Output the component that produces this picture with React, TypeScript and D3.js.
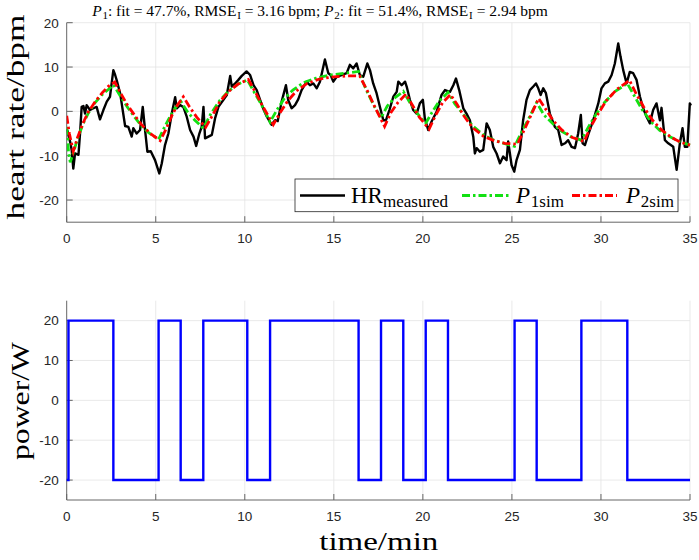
import React, { useEffect, useRef } from "react";
import * as d3 from "d3";

// measured heart rate (min, bpm)
const hrTime = [
  0, 0.05, 0.12, 0.2, 0.28, 0.37, 0.47, 0.66, 0.75, 0.84, 0.94, 1.03, 1.12, 1.31, 1.5, 1.68, 1.87, 2.06, 2.25,
  2.43, 2.53, 2.62, 2.72, 2.81, 3.0, 3.28, 3.46, 3.65, 3.74, 3.93, 4.12, 4.27, 4.4, 4.53, 4.72, 4.96, 5.2, 5.34,
  5.52, 5.71, 5.9, 6.09, 6.18, 6.37, 6.55, 6.74, 6.93, 7.12, 7.27, 7.45, 7.58, 7.68, 7.77, 7.96, 8.15, 8.33, 8.52,
  8.8, 8.99, 9.18, 9.27, 9.46, 9.64, 9.83, 10.1, 10.3, 10.49, 10.67, 10.86, 11.05, 11.24, 11.5, 11.7, 11.85,
  12.07, 12.31, 12.44, 12.63, 12.82, 13.0, 13.19, 13.47, 13.66, 13.85, 14.04, 14.22, 14.5, 14.69, 14.82, 14.97,
  15.16, 15.43, 15.72, 15.9, 16.09, 16.28, 16.46, 16.65, 16.88, 17.03, 17.21, 17.4, 17.59, 17.78, 17.93, 18.12,
  18.34, 18.53, 18.62, 18.81, 19.0, 19.09, 19.27, 19.46, 19.65, 19.83, 20.0, 20.11, 20.3, 20.49, 20.77, 21.05,
  21.24, 21.52, 21.71, 21.86, 22.04, 22.27, 22.45, 22.64, 22.83, 22.92, 23.02, 23.2, 23.39, 23.58, 23.76, 23.95,
  24.14, 24.33, 24.51, 24.7, 24.79, 24.98, 25.13, 25.26, 25.45, 25.63, 25.82, 26.01, 26.2, 26.35, 26.48, 26.61,
  26.76, 26.91, 27.13, 27.41, 27.6, 27.79, 27.98, 28.16, 28.35, 28.54, 28.72, 28.87, 28.97, 29.1, 29.28, 29.47,
  29.66, 29.85, 30.03, 30.22, 30.41, 30.6, 30.78, 30.97, 31.1, 31.25, 31.44, 31.62, 31.81, 32.0, 32.19, 32.37,
  32.56, 32.75, 32.93, 33.12, 33.31, 33.4, 33.59, 33.78, 34.06, 34.25, 34.43, 34.58, 34.71, 34.85, 34.99, 35.05,
];
const hrMeasured = [
  -4, -4.5, -5.7, -7, -8.7, -12.9, -9.5, -9.8, -5, 1, 1.2, -0.5, 1.4, 0.3, 0.7, 1, -1.8, 0.3, 2.2,
  3.3, 6.5, 9.3, 8.2, 7, 4.1, -3.3, -3.5, -5.7, -3.8, -5, -4.2, 1, -4.2, -9.1, -9, -11, -14, -11.7,
  -7.6, -5, -0.5, 3.2, 0.7, 1.4, 1, -1.2, -4.2, -5.7, -7.8, -5, -3.5, 1, -6.1, -5.7, -5.3, -1.6, 1,
  2.6, 3.7, 8, 5.6, 6.3, 7.1, 8, 9, 8.2, 5.9, 4.8, 2.6, 0.5, -1.2, -3, -2, -2.2,
  2.2, 5.9, 2.5, 0.7, 1.4, 2.7, 4.8, 6.7, 5.9, 6.3, 5.2, 6.7, 11.7, 8.6, 8.2, 6.7,
  7.8, 8.2, 8.6, 10.5, 9.7, 10.8, 8.2, 7.8, 10.8, 9.3, 6.3, 4.1, 1, -2, -2, 0.3,
  3.3, 4.4, 6.7, 5.9, 6.7, 5.6, 2.6, 0.3, -0.5, 1.8, 2.6, -1.6, -4.2, -2.3, -0.1, 3.7,
  4.8, 4.4, 5.9, 7.4, 4.8, 0.7, -0.5, -2, -5.7, -9.5, -8.3, -9.1, -8.7, -2.7, -4.2, -8,
  -9.5, -11.7, -10.2, -11, -6.8, -12.1, -13.6, -11, -8.7, -2, 2.6, 4.8, 5.6, 6.3, 5.2, 3.7,
  5.2, 4.1, -0.5, -3.5, -4.2, -7.6, -7.2, -6.5, -8, -8.3, -5, -0.8, -7.2, -7.6, -5.3, -3.1,
  -0.8, 1.8, 5.2, 6.3, 6.7, 8.2, 10.8, 15.3, 12.3, 9.3, 6.3, 8.9, 8.6, 7.1, 3.3, 0.7,
  -1.2, -2.7, 0.3, 1.8, -2, 0.8, -6.5, -7.2, -8, -13.2, -7.2, -3.8, -8, -8, 1.8, 1.3,
];

// simulated model P1
const p1Time = [
  0, 0.1, 0.2, 0.4, 0.6, 0.9, 1.2, 1.6, 2.0, 2.35, 2.62, 3.0, 3.4, 3.8, 4.2, 4.6, 5.16, 5.5, 5.8, 6.1, 6.4,
  6.8, 7.2, 7.67, 8.1, 8.6, 9.1, 9.6, 10.14, 10.5, 10.9, 11.42, 11.8, 12.2, 12.7, 13.3, 14, 14.8, 15.6, 16.39,
  16.8, 17.2, 17.65, 18.0, 18.4, 18.9, 19.3, 19.7, 20.16, 20.5, 20.9, 21.41, 21.8, 22.3, 22.8, 23.4, 24, 24.6,
  25.15, 25.5, 25.9, 26.39, 26.8, 27.3, 27.8, 28.3, 28.9, 29.3, 29.7, 30.2, 30.8, 31.48, 31.9, 32.3, 32.8,
  33.3, 33.9, 34.4, 35,
];
const p1Sim = [
  -3.5, -9, -11.5, -9, -6.3, -3, -0.5, 2, 3.8, 5, 6, 3.5, 1, -1.2, -3.3, -4.8, -6.3, -3.5, -1.2, 0.8, 2.3,
  -0.2, -2, -3.8, -0.5, 2.5, 4.6, 6.1, 7.1, 4.5, 1.8, -2.4, 0.3, 2.8, 4.8, 6.5, 7.5, 8.2, 8.6, 9,
  5, 1.7, -1.5, 1.2, 3, 4.5, 1.8, -0.5, -2.7, -0.3, 2.2, 4.3, 1.7, -0.8, -3.3, -5.3, -6.5, -7.3,
  -7.9, -5, -2, 2, -0.8, -2.8, -4.5, -5.7, -6.5, -3.5, -0.8, 2, 4.5, 6.3, 3.3, 0.5, -2.3,
  -4.3, -5.8, -6.8, -7.6,
];

// simulated model P2
const p2Time = [
  0, 0.15, 0.37, 0.6, 0.9, 1.2, 1.6, 2.0, 2.35, 2.7, 3.0, 3.4, 3.8, 4.2, 4.7, 5.25, 5.6, 5.9, 6.2, 6.55,
  6.9, 7.3, 7.8, 8.2, 8.6, 9.1, 9.6, 10.2, 10.6, 11.0, 11.6, 12.0, 12.4, 12.9, 13.5, 14.2, 15, 15.8, 16.45,
  16.9, 17.3, 17.85, 18.2, 18.6, 19.05, 19.4, 19.8, 20.35, 20.7, 21.1, 21.55, 21.9, 22.3, 22.8, 23.4, 24, 24.6,
  25.3, 25.6, 26, 26.5, 26.9, 27.3, 27.8, 28.4, 29.05, 29.4, 29.8, 30.3, 30.9, 31.6, 32, 32.4, 32.9, 33.4,
  34, 34.5, 35,
];
const p2Sim = [
  -1, -5, -9, -6, -2.8, -0.2, 2.2, 4.2, 5.7, 6.6, 4.3, 1.5, -0.8, -3, -5, -6.6, -3.8, -1, 1.3, 3.3,
  1, -1.3, -3.6, -0.8, 2.2, 4.5, 6.1, 7.2, 4.3, 1.2, -3, -0.2, 2.3, 4.6, 6.3, 7.3, 7.8, 8, 8,
  4.5, 1, -3.4, -0.3, 2, 3.9, 1.5, -1.3, -4, -1, 1.9, 3.8, 1.7, -1, -3.7, -5.6, -6.6, -7.2,
  -7.4, -5, -1.5, 2.9, 0.5, -2, -4.2, -5.9, -6.8, -3.7, -0.8, 2.4, 5, 7, 3.8, 1, -2, -4.2,
  -6, -7, -7.6,
];

// power input: switch instants (min) and the level that starts there (W)
const powerTime = [0, 0.1, 2.62, 5.16, 6.4, 7.67, 10.14, 11.42, 16.39, 17.65, 18.9, 20.16, 21.41, 25.15, 26.39, 28.9, 31.48, 35];
const powerLevel = [-20, 20, -20, 20, -20, 20, -20, 20, -20, 20, -20, 20, -20, 20, -20, 20, -20, -20];

const xTicks = [0, 5, 10, 15, 20, 25, 30, 35];
const hrTicks = [-20, -10, 0, 10, 20];
const powerTicks = [-20, -10, 0, 10, 20];

const W = 699;
const H = 560;
const left = 66.7;
const right = 690;
const serif = "'Liberation Serif', 'Times New Roman', serif";
const sans = "'Liberation Sans', Arial, sans-serif";
const axisColor = "#666";
const gridColor = "#e3e3e3";
const tickColor = "#262626";

type Pt = [number, number];

const zip = (xs: number[], ys: number[]): Pt[] => xs.map((x, i) => [x, ys[i]]);

function drawPanel(
  svg: d3.Selection<SVGSVGElement, unknown, null, undefined>,
  id: string,
  top: number,
  bottom: number,
  yDomain: [number, number],
  yTicks: number[],
) {
  const x = d3.scaleLinear().domain([0, 35]).range([left, right]);
  const y = d3.scaleLinear().domain(yDomain).range([bottom, top]);
  const g = svg.append("g");

  // grid
  g.append("g")
    .selectAll("line")
    .data(xTicks.slice(1))
    .join("line")
    .attr("x1", (d) => x(d))
    .attr("x2", (d) => x(d))
    .attr("y1", top)
    .attr("y2", bottom)
    .attr("stroke", gridColor)
    .attr("stroke-width", 0.8);
  g.append("g")
    .selectAll("line")
    .data(yTicks)
    .join("line")
    .attr("x1", left)
    .attr("x2", right)
    .attr("y1", (d) => y(d))
    .attr("y2", (d) => y(d))
    .attr("stroke", gridColor)
    .attr("stroke-width", 0.8);

  // axis lines
  g.append("line")
    .attr("x1", left)
    .attr("x2", left)
    .attr("y1", top)
    .attr("y2", bottom)
    .attr("stroke", axisColor)
    .attr("stroke-width", 1);
  g.append("line")
    .attr("x1", left)
    .attr("x2", right)
    .attr("y1", bottom)
    .attr("y2", bottom)
    .attr("stroke", axisColor)
    .attr("stroke-width", 1);

  // inward ticks
  g.append("g")
    .selectAll("line")
    .data(xTicks)
    .join("line")
    .attr("x1", (d) => x(d))
    .attr("x2", (d) => x(d))
    .attr("y1", bottom)
    .attr("y2", bottom - 6)
    .attr("stroke", axisColor);
  g.append("g")
    .selectAll("line")
    .data(yTicks)
    .join("line")
    .attr("x1", left)
    .attr("x2", left + 6)
    .attr("y1", (d) => y(d))
    .attr("y2", (d) => y(d))
    .attr("stroke", axisColor);

  // tick labels
  g.append("g")
    .selectAll("text")
    .data(xTicks)
    .join("text")
    .attr("x", (d) => x(d))
    .attr("y", bottom + 21)
    .attr("text-anchor", "middle")
    .attr("font-family", sans)
    .attr("font-size", 13.5)
    .attr("fill", tickColor)
    .text((d) => d);
  g.append("g")
    .selectAll("text")
    .data(yTicks)
    .join("text")
    .attr("x", left - 8)
    .attr("y", (d) => y(d) + 4.8)
    .attr("text-anchor", "end")
    .attr("font-family", sans)
    .attr("font-size", 13.5)
    .attr("fill", tickColor)
    .text((d) => d);

  svg
    .append("clipPath")
    .attr("id", id)
    .append("rect")
    .attr("x", left)
    .attr("y", top - 2)
    .attr("width", right - left + 2)
    .attr("height", bottom - top + 2);

  return { x, y, g };
}

function App() {
  const ref = useRef<SVGSVGElement>(null);

  useEffect(() => {
    const svg = d3.select(ref.current!);
    svg.selectAll("*").remove();

    // ---- top panel: heart rate
    const top = drawPanel(svg, "clipTop", 22.7, 222.2, [-25, 20], hrTicks);
    const line = d3
      .line<Pt>()
      .x((d) => top.x(d[0]))
      .y((d) => top.y(d[1]));
    const plot = top.g.append("g").attr("clip-path", "url(#clipTop)");

    plot
      .append("path")
      .attr("d", line(zip(hrTime, hrMeasured)))
      .attr("fill", "none")
      .attr("stroke", "#000")
      .attr("stroke-width", 2.4)
      .attr("stroke-linejoin", "round");
    plot
      .append("path")
      .attr("d", line(zip(p1Time, p1Sim)))
      .attr("fill", "none")
      .attr("stroke", "#12e012")
      .attr("stroke-width", 2.8)
      .attr("stroke-dasharray", "8,3,2.5,3");
    plot
      .append("path")
      .attr("d", line(zip(p2Time, p2Sim)))
      .attr("fill", "none")
      .attr("stroke", "#ff0000")
      .attr("stroke-width", 2.8)
      .attr("stroke-dasharray", "8,3,2.5,3");

    // title, with the subscripts as separate runs
    const title = svg
      .append("text")
      .attr("x", 320)
      .attr("y", 15.5)
      .attr("text-anchor", "middle")
      .attr("font-family", serif)
      .attr("font-size", 15.5)
      .attr("fill", "#000");
    const parts: [string, string][] = [
      ["P", "i"],
      ["1", "s"],
      [": fit = 47.7%, RMSE", "n"],
      ["I", "s"],
      [" = 3.16 bpm; ", "n"],
      ["P", "i"],
      ["2", "s"],
      [": fit = 51.4%, RMSE", "n"],
      ["I", "s"],
      [" = 2.94 bpm", "n"],
    ];
    let shifted = false;
    parts.forEach(([s, kind]) => {
      const t = title.append("tspan").text(s);
      if (kind === "i") t.attr("font-style", "italic");
      if (kind === "s") {
        t.attr("font-size", 11).attr("dy", 3.2).attr("dx", 0.8);
        shifted = true;
      } else if (shifted) {
        t.attr("dy", -3.2);
        shifted = false;
      }
    });

    // legend
    const lg = svg.append("g");
    lg.append("rect")
      .attr("x", 295)
      .attr("y", 179)
      .attr("width", 383)
      .attr("height", 32.7)
      .attr("fill", "#fff")
      .attr("stroke", "#262626")
      .attr("stroke-width", 0.8);
    const ly = 195.5;
    lg.append("line").attr("x1", 300).attr("x2", 345).attr("y1", ly).attr("y2", ly).attr("stroke", "#000").attr("stroke-width", 2.4);
    lg.append("line")
      .attr("x1", 462)
      .attr("x2", 511)
      .attr("y1", ly)
      .attr("y2", ly)
      .attr("stroke", "#12e012")
      .attr("stroke-width", 2.8)
      .attr("stroke-dasharray", "8,3,2.5,3");
    lg.append("line")
      .attr("x1", 572)
      .attr("x2", 617)
      .attr("y1", ly)
      .attr("y2", ly)
      .attr("stroke", "#ff0000")
      .attr("stroke-width", 2.8)
      .attr("stroke-dasharray", "8,3,2.5,3");

    const hr = lg.append("text").attr("x", 351).attr("y", 203).attr("font-family", serif).attr("font-size", 23);
    hr.append("tspan").text("HR");
    hr.append("tspan").attr("font-size", 17).attr("dy", 4).text("measured");

    const p1 = lg.append("text").attr("x", 516).attr("y", 203).attr("font-family", serif).attr("font-size", 23);
    p1.append("tspan").attr("font-style", "italic").text("P");
    p1.append("tspan").attr("font-size", 17).attr("dy", 4).attr("dx", 0.8).text("1sim");

    const p2 = lg.append("text").attr("x", 626).attr("y", 203).attr("font-family", serif).attr("font-size", 23);
    p2.append("tspan").attr("font-style", "italic").text("P");
    p2.append("tspan").attr("font-size", 17).attr("dy", 4).attr("dx", 0.8).text("2sim");

    svg
      .append("text")
      .attr("transform", "translate(24,117) rotate(-90)")
      .attr("text-anchor", "middle")
      .attr("font-family", serif)
      .attr("font-size", 26)
      .attr("textLength", 205)
      .attr("lengthAdjust", "spacingAndGlyphs")
      .text("heart rate/bpm");

    // ---- bottom panel: power
    const bot = drawPanel(svg, "clipBot", 300.7, 500, [-25, 25], powerTicks);
    const step = d3
      .line<Pt>()
      .x((d) => bot.x(d[0]))
      .y((d) => bot.y(d[1]))
      .curve(d3.curveStepAfter);
    bot.g
      .append("path")
      .attr("d", step(zip(powerTime, powerLevel)))
      .attr("fill", "none")
      .attr("stroke", "#0000ff")
      .attr("stroke-width", 2.4);

    svg
      .append("text")
      .attr("transform", "translate(29,401) rotate(-90)")
      .attr("text-anchor", "middle")
      .attr("font-family", serif)
      .attr("font-size", 26)
      .attr("textLength", 118)
      .attr("lengthAdjust", "spacingAndGlyphs")
      .text("power/W");

    svg
      .append("text")
      .attr("x", 378.8)
      .attr("y", 550)
      .attr("text-anchor", "middle")
      .attr("font-family", serif)
      .attr("font-size", 26)
      .attr("textLength", 119)
      .attr("lengthAdjust", "spacingAndGlyphs")
      .text("time/min");
  }, []);

  return (
    <svg
      ref={ref}
      width={W}
      height={H}
      style={{ position: "absolute", left: 0, top: 0, background: "#fff" }}
    />
  );
}

export default App;
